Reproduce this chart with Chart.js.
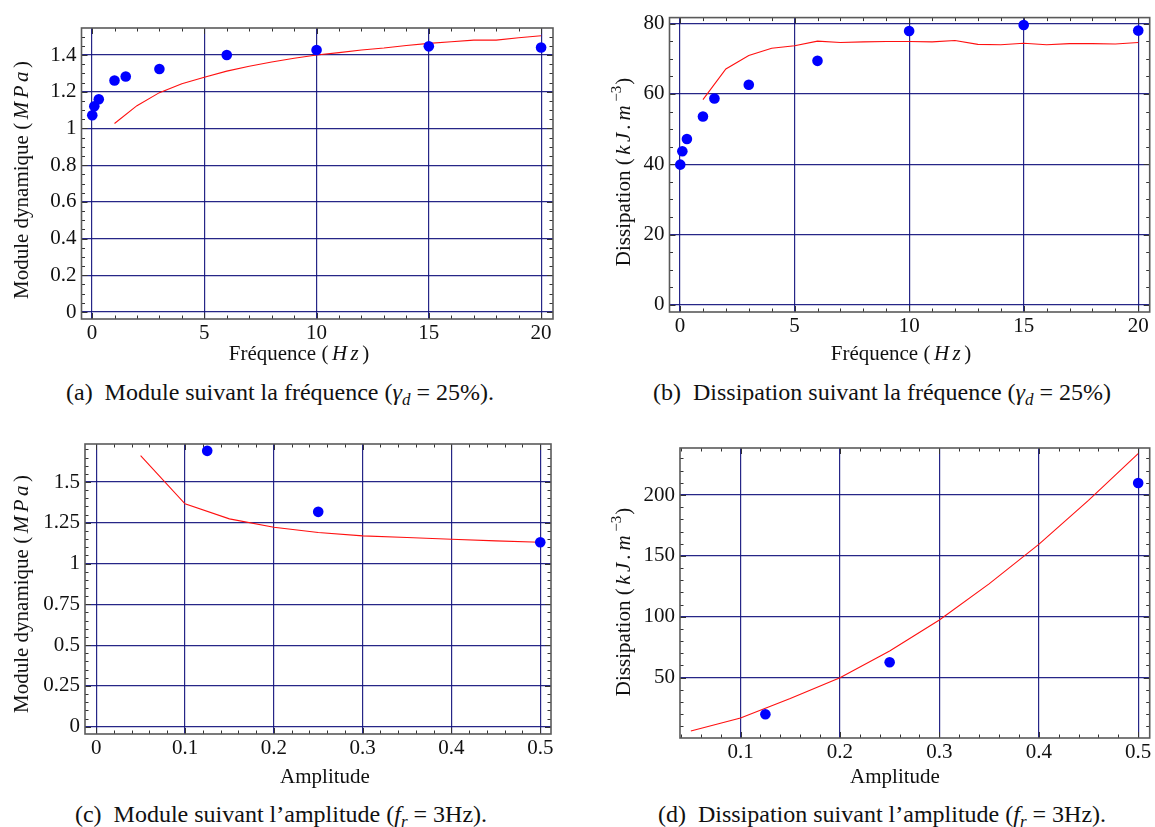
<!DOCTYPE html>
<html>
<head>
<meta charset="utf-8">
<script src="https://cdn.jsdelivr.net/npm/chart.js@4.4.1/dist/chart.umd.min.js"></script>
<style>
  html, body { margin: 0; padding: 0; background: #fff; }
  #wrap { position: relative; width: 1155px; height: 827px; overflow: hidden; font-family: 'Liberation Serif', 'DejaVu Serif', serif; color: #111; }
  .panel { position: absolute; }
  .cap { position: absolute; width: 640px; text-align: center; font-size: 24px; line-height: 26px; white-space: nowrap; }
  .cap i { font-style: italic; }
  .cap sub { font-size: 17px; vertical-align: -5px; line-height: 0; }
</style>
</head>
<body>
<div id="wrap">
  <div class="panel" style="left:0px;top:0px;width:570px;height:372px"><canvas id="ca" width="570" height="372"></canvas></div>
  <div class="panel" style="left:580px;top:0px;width:575px;height:372px"><canvas id="cb" width="575" height="372"></canvas></div>
  <div class="panel" style="left:0px;top:420px;width:570px;height:372px"><canvas id="cc" width="570" height="372"></canvas></div>
  <div class="panel" style="left:580px;top:420px;width:575px;height:372px"><canvas id="cd" width="575" height="372"></canvas></div>
  <div class="cap" style="left:-40px;top:379px">(a)&ensp;Module suivant la fréquence (<i>γ<sub>d</sub></i> = 25%).</div>
  <div class="cap" style="left:562px;top:379px">(b)&ensp;Dissipation suivant la fréquence (<i>γ<sub>d</sub></i> = 25%)</div>
  <div class="cap" style="left:-39px;top:801px">(c)&ensp;Module suivant l’amplitude (<i>f<sub>r</sub></i> = 3Hz).</div>
  <div class="cap" style="left:562px;top:801px">(d)&ensp;Dissipation suivant l’amplitude (<i>f<sub>r</sub></i> = 3Hz).</div>
</div>
<script>
// ---------- data ----------
// (a) & (b): frequency sweep
const freqPts = [0.01, 0.1, 0.3, 1, 1.5, 3, 6, 10, 15, 20];
const moduleFreqPts = [1.072, 1.121, 1.159, 1.261, 1.283, 1.324, 1.40, 1.427, 1.447, 1.441];
const dissFreqPts = [39.9, 43.7, 47.2, 53.6, 58.7, 62.6, 69.4, 77.9, 79.6, 78.0];
const freqModel = [1, 2, 3, 4, 5, 6, 7, 8, 9, 10, 11, 12, 13, 14, 15, 16, 17, 18, 19, 20];
const moduleFreqModel = [1.027, 1.124, 1.195, 1.243, 1.279, 1.312, 1.339, 1.362, 1.382, 1.400,
                         1.413, 1.427, 1.438, 1.452, 1.463, 1.472, 1.481, 1.481, 1.494, 1.505];
const dissFreqModel = [58.4, 67.1, 70.9, 73.0, 73.7, 75.0, 74.6, 74.8, 74.9, 74.9,
                       74.8, 75.2, 74.1, 74.0, 74.4, 74.0, 74.3, 74.3, 74.2, 74.6];
// (c) & (d): amplitude sweep
const ampPts = [0.125, 0.25, 0.5];
const moduleAmpPts = [1.691, 1.317, 1.131];
const dissAmpPts = [19.9, 62.6, 209.9];
const ampModel = [0.05, 0.1, 0.15, 0.2, 0.25, 0.3, 0.35, 0.4, 0.45, 0.5];
const moduleAmpModel = [1.661, 1.366, 1.274, 1.223, 1.190, 1.170, 1.160, 1.149, 1.139, 1.131];
const dissAmpModel = [6.2, 16.9, 32.8, 50.0, 71.9, 97.3, 127.0, 159.5, 195.6, 233.9];
// tick labels
const xTicksFreq = [0, 5, 10, 15, 20];
const yTicksModuleFreq = [0, 0.2, 0.4, 0.6, 0.8, 1, 1.2, 1.4];
const yTicksDissFreq = [0, 20, 40, 60, 80];
const xTicksAmpC = [0, 0.1, 0.2, 0.3, 0.4, 0.5];
const yTicksModuleAmp = [0, 0.25, 0.5, 0.75, 1, 1.25, 1.5];
const xTicksAmpD = [0.1, 0.2, 0.3, 0.4, 0.5];
const yTicksDissAmp = [50, 100, 150, 200];
// axis titles (plain part / italic math part / superscript)
const titleModule = [{ t: 'Module dynamique (' }, { t: 'MPa', it: true }, { t: ')' }];
const titleDiss = [{ t: 'Dissipation (' }, { t: 'kJ.m', it: true }, { t: '−3', sup: true }, { t: ')' }];
const titleFreq = [{ t: 'Fréquence (' }, { t: 'Hz', it: true }, { t: ')' }];
const titleAmp = [{ t: 'Amplitude' }];

// ---------- styling ----------
const FONT = "'Liberation Serif', 'DejaVu Serif', serif";
const GRID = 'rgba(20,20,125,0.92)';
const FS = 21;

const frameTicks = {
  id: 'frameTicks',
  beforeDatasetsDraw(chart, args, o) {
    const { ctx, chartArea: a, scales: { x, y } } = chart;
    ctx.save();
    ctx.strokeStyle = '#333';
    ctx.lineWidth = 1;
    const draw = (scale, step, horizontal) => {
      const majors = scale.ticks.map(t => t.value);
      const start = Math.ceil((scale.min - 1e-9) / step);
      const end = Math.floor((scale.max + 1e-9) / step);
      for (let i = start; i <= end; i++) {
        const v = i * step;
        const isMajor = majors.some(m => Math.abs(m - v) < step * 1e-3);
        const len = isMajor ? 6 : 3.5;
        const p = Math.round(scale.getPixelForValue(v)) + 0.5;
        ctx.beginPath();
        if (horizontal) {
          ctx.moveTo(p, a.bottom); ctx.lineTo(p, a.bottom - len);
          ctx.moveTo(p, a.top); ctx.lineTo(p, a.top + len);
        } else {
          ctx.moveTo(a.left, p); ctx.lineTo(a.left + len, p);
          ctx.moveTo(a.right, p); ctx.lineTo(a.right - len, p);
        }
        ctx.stroke();
      }
    };
    draw(x, o.xMinor, true);
    draw(y, o.yMinor, false);
    ctx.strokeStyle = '#5a5a5a';
    ctx.lineWidth = 1.6;
    ctx.strokeRect(a.left, a.top, a.right - a.left, a.bottom - a.top);
    ctx.restore();
  }
};

// axis titles with italic math parts (Mathematica / LaTeX style)
function segFont(s) { return (s.it ? 'italic ' : '') + (s.sup ? 15 : FS) + 'px ' + FONT; }
const MATH_GAP = 3.5;
function segChars(s) { return s.it ? Array.from(s.t) : [s.t]; }
function richWidth(ctx, segs) {
  let w = 0;
  segs.forEach(s => {
    ctx.font = segFont(s);
    const parts = segChars(s);
    parts.forEach(p => { w += ctx.measureText(p).width; });
    if (s.it) w += MATH_GAP * (parts.length + 1);
    if (s.sup) w += 1;
  });
  return w;
}
function drawRich(ctx, segs, cx, cy, rot) {
  ctx.save();
  ctx.translate(cx, cy);
  ctx.rotate(rot);
  ctx.fillStyle = '#111';
  ctx.textBaseline = 'alphabetic';
  ctx.textAlign = 'left';
  let x = -richWidth(ctx, segs) / 2;
  const base = FS * 0.33;
  segs.forEach(s => {
    ctx.font = segFont(s);
    const parts = segChars(s);
    if (s.it) x += MATH_GAP;
    parts.forEach(p => {
      ctx.fillText(p, x, s.sup ? base - 9 : base);
      x += ctx.measureText(p).width + (s.it ? MATH_GAP : 0);
    });
    if (s.sup) x += 1;
  });
  ctx.restore();
}
const mathTitles = {
  id: 'mathTitles',
  afterDraw(chart, args, o) {
    drawRich(chart.ctx, o.xSegs, o.xc[0], o.xc[1], 0);
    drawRich(chart.ctx, o.ySegs, o.yc[0], o.yc[1], -Math.PI / 2);
  }
};

function fmt(v) { return String(v); }

function makeChart(id, cfg) {
  const ptsData = cfg.px.map((x, i) => ({ x: x, y: cfg.py[i] }));
  const lineData = cfg.lx.map((x, i) => ({ x: x, y: cfg.ly[i] }));
  return new Chart(document.getElementById(id), {
    type: 'scatter',
    data: {
      datasets: [
        { label: 'Mesures', data: ptsData, backgroundColor: '#0000ff', borderWidth: 0,
          pointRadius: 5.3, pointHoverRadius: 5.3, clip: false, order: 1 },
        { label: 'Modèle', data: lineData, type: 'line', showLine: true, borderColor: '#ff1010',
          borderWidth: 1.1, pointRadius: 0, tension: 0, fill: false, order: 2 }
      ]
    },
    options: {
      responsive: false,
      animation: false,
      events: [],
      layout: { padding: { left: 0, right: cfg.padRight, top: cfg.padTop, bottom: 0 } },
      plugins: {
        legend: { display: false },
        tooltip: { enabled: false },
        frameTicks: { xMinor: cfg.xMinor, yMinor: cfg.yMinor },
        mathTitles: { xSegs: cfg.xTitle, ySegs: cfg.yTitle, xc: cfg.xTitlePos, yc: cfg.yTitlePos }
      },
      scales: {
        x: {
          type: 'linear', min: cfg.xmin, max: cfg.xmax,
          afterBuildTicks: s => { s.ticks = cfg.xt.map(v => ({ value: v })); },
          afterFit: s => { s.height = cfg.xH; },
          grid: { color: GRID, lineWidth: 1.2, drawTicks: false },
          border: { display: false },
          ticks: { color: '#111', font: { family: FONT, size: FS }, padding: 2, autoSkip: false,
                   maxRotation: 0, callback: fmt },
          title: { display: false, text: cfg.xTitle.map(s => s.t).join('') }
        },
        y: {
          type: 'linear', min: cfg.ymin, max: cfg.ymax,
          afterBuildTicks: s => { s.ticks = cfg.yt.map(v => ({ value: v })); },
          afterFit: s => { s.width = cfg.yW; },
          grid: { color: GRID, lineWidth: 1.2, drawTicks: false },
          border: { display: false },
          ticks: { color: '#111', font: { family: FONT, size: FS }, padding: 5, autoSkip: false, callback: fmt },
          title: { display: false, text: cfg.yTitle.map(s => s.t).join('') }
        }
      }
    },
    plugins: [frameTicks, mathTitles]
  });
}

makeChart('ca', {
  px: freqPts, py: moduleFreqPts, lx: freqModel, ly: moduleFreqModel,
  xmin: -0.47, xmax: 20.53, ymin: -0.038, ymax: 1.547,
  xt: xTicksFreq, yt: yTicksModuleFreq, xMinor: 1, yMinor: 0.05,
  xTitle: titleFreq, yTitle: titleModule,
  yW: 81.5, xH: 53, padTop: 28, padRight: 17,
  xTitlePos: [299, 353], yTitlePos: [21, 180]
});
makeChart('cb', {
  px: freqPts, py: dissFreqPts, lx: freqModel, ly: dissFreqModel,
  xmin: -0.46, xmax: 20.5, ymin: -2.0, ymax: 81.7,
  xt: xTicksFreq, yt: yTicksDissFreq, xMinor: 1, yMinor: 5,
  xTitle: titleFreq, yTitle: titleDiss,
  yW: 89.5, xH: 60, padTop: 12, padRight: 1,
  xTitlePos: [321, 353], yTitlePos: [43, 172]
});
makeChart('cc', {
  px: ampPts, py: moduleAmpPts, lx: ampModel, ly: moduleAmpModel,
  xmin: -0.0126, xmax: 0.5121, ymin: -0.045, ymax: 1.733,
  xt: xTicksAmpC, yt: yTicksModuleAmp, xMinor: 0.02, yMinor: 0.05,
  xTitle: titleAmp, yTitle: titleModule,
  yW: 85, xH: 58, padTop: 24, padRight: 19,
  xTitlePos: [325, 356], yTitlePos: [21, 174]
});
makeChart('cd', {
  px: ampPts, py: dissAmpPts, lx: ampModel, ly: dissAmpModel,
  xmin: 0.0391, xmax: 0.5116, ymin: 0.45, ymax: 238.6,
  xt: xTicksAmpD, yt: yTicksDissAmp, xMinor: 0.02, yMinor: 10,
  xTitle: titleAmp, yTitle: titleDiss,
  yW: 100, xH: 54, padTop: 28, padRight: 5,
  xTitlePos: [315, 356], yTitlePos: [43, 182]
});
</script>
</body>
</html>
